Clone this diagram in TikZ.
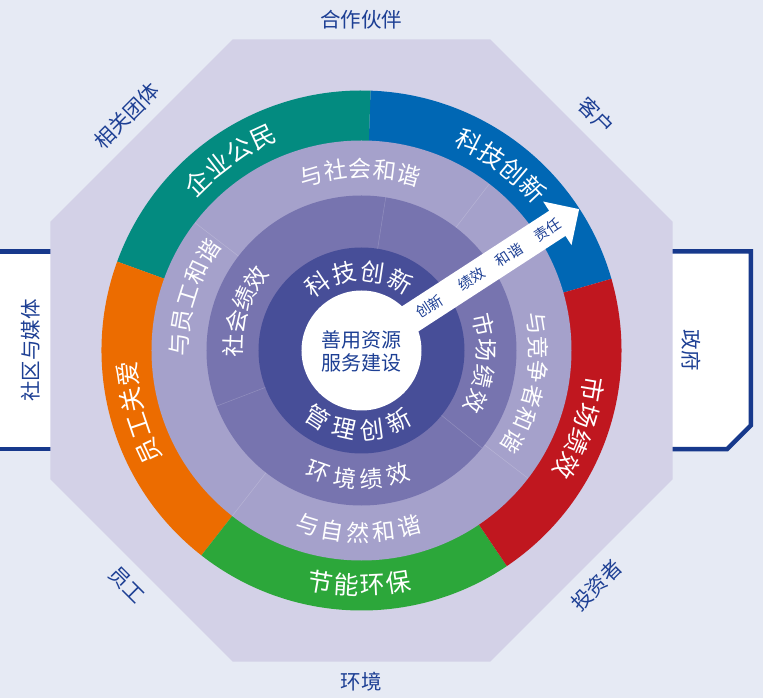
\documentclass[tikz,border=0pt]{standalone}
\usepackage{fontspec}
\setmainfont{Noto Sans CJK SC}
\definecolor{bg}{HTML}{E6EAF4}
\definecolor{oct}{HTML}{D3D1E7}
\definecolor{navy}{HTML}{17398C}
\definecolor{txtblue}{HTML}{1D3F94}
\definecolor{cteal}{HTML}{038B80}
\definecolor{cblue}{HTML}{0067B4}
\definecolor{cred}{HTML}{C0171F}
\definecolor{cgreen}{HTML}{2CA73A}
\definecolor{corange}{HTML}{EC6C00}
\definecolor{ringb}{HTML}{A5A1CB}
\definecolor{ringc}{HTML}{7774AF}
\definecolor{ringd}{HTML}{474E98}
% annular sector: colour, start angle, end angle, inner r, outer r
\newcommand\mysector[5]{%
  \fill[#1] (#2:#4) arc[start angle=#2, end angle=#3, radius=#4pt]
    -- (#3:#5) arc[start angle=#3, end angle=#2, radius=#5pt] -- cycle;}
% clockwise arc text, tops outward: name, centre angle, step, radius, n, list, font size
\newcommand\arcCW[7]{%
  \foreach \ch [count=\i from 0] in {#6} {%
    \pgfmathsetmacro\ang{#2+(#5-1)/2*#3-\i*#3}%
    \node[ringtxt, font=\fontsize{#7}{#7}\selectfont, rotate=\ang-90] (#1-\i) at (\ang:#4) {\ch};
  }}
% counter-clockwise arc text (bottom), tops inward
\newcommand\arcCCW[7]{%
  \foreach \ch [count=\i from 0] in {#6} {%
    \pgfmathsetmacro\ang{#2-(#5-1)/2*#3+\i*#3}%
    \node[ringtxt, font=\fontsize{#7}{#7}\selectfont, rotate=\ang+90] (#1-\i) at (\ang:#4) {\ch};
  }}
\begin{document}
\begin{tikzpicture}[x=1pt,y=1pt,
  ringtxt/.style={text=white, inner sep=0pt},
  outlbl/.style={text=txtblue, inner sep=0pt, font=\fontsize{20.5}{20.5}\selectfont},
  arrowtxt/.style={text=txtblue, inner sep=0pt, font=\fontsize{14.5}{14.5}\selectfont},
  sepline/.style={line width=0.5pt, white, opacity=0.2}]
\useasboundingbox (-361.5,-347.5) rectangle (401.5,350.5);
\fill[bg] (-361.5,-347.5) rectangle (401.5,350.5);
% side boxes
\fill[white] (-365,-98.7) rectangle (-300,99);
\draw[navy, line width=4.3pt] (-365,99) -- (-300,99) (-365,-98.7) -- (-300,-98.7);
\filldraw[fill=white, draw=navy, line width=4.5pt, line join=miter]
  (300,99) -- (389.3,99) -- (389.3,-75) -- (365.5,-98.7) -- (300,-98.7);
% octagon
\fill[oct] (128.8,311) -- (311,128.8) -- (311,-128.8) -- (128.8,-311) -- (-128.8,-311)
  -- (-311,-128.8) -- (-311,128.8) -- (-128.8,311) -- cycle;
% outer ring
\mysector{cblue}{16}{88}{209}{260}
\mysector{cteal}{88}{160}{209}{260}
\mysector{corange}{160}{232}{209}{260}
\mysector{cgreen}{232}{304}{209}{260}
\mysector{cred}{304}{376}{209}{260}
% inner rings
\fill[ringb] (0,0) circle[radius=210pt];
\fill[ringc] (0,0) circle[radius=155pt];
\fill[ringd] (0,0) circle[radius=103pt];
\fill[white] (0,0) circle[radius=60pt];
\foreach \a in {52.5,142.5,232,322.5} \draw[sepline] (\a:155) -- (\a:210);
\foreach \a in {81,201,321} \draw[sepline] (\a:103) -- (\a:155);
% arrow
\fill[white, rotate=33] (0,-15) -- (233.5,-15) -- (233.5,-26) -- (259.5,0)
  -- (233.5,26) -- (233.5,15) -- (0,15) -- cycle;
\node[arrowtxt, rotate=33] (w1) at (33:81) {创新};
\node[arrowtxt, rotate=33] (w2) at (33:131) {绩效};
\node[arrowtxt, rotate=33] (w3) at (33:176) {和谐};
\node[arrowtxt, rotate=33] (w4) at (33:222) {责任};
% outer ring texts
\arcCW{qy}{124.5}{6.5}{235}{4}{企,业,公,民}{25}
\arcCW{kj}{53}{6.5}{235}{4}{科,技,创,新}{25}
\arcCW{sc}{-19.5}{6.6}{235}{4}{市,场,绩,效}{25}
\arcCW{yg}{195.5}{6.5}{235}{4}{员,工,关,爱}{25}
\arcCCW{jn}{-90.5}{6.3}{235}{4}{节,能,环,保}{25}
% second ring
\arcCW{sh}{90.5}{7.8}{182}{5}{与,社,会,和,谐}{23}
\arcCW{ygh}{162.6}{7.85}{182}{5}{与,员,工,和,谐}{23}
\arcCW{jz}{-11}{8}{177}{6}{与,竞,争,者,和,谐}{22.5}
\arcCCW{zr}{-91}{8.1}{182}{5}{与,自,然,和,谐}{23}
% third ring
\arcCW{shjx}{161.5}{10.8}{128}{4}{社,会,绩,效}{23}
\arcCW{scjx}{-6}{12}{125}{4}{市,场,绩,效}{23}
\arcCCW{hjjx}{-91.5}{12}{129}{4}{环,境,绩,效}{23}
% dark ring
\arcCW{kjcx}{92}{21}{79}{4}{科,技,创,新}{24}
\arcCCW{glcx}{-92.5}{20.3}{80}{4}{管,理,创,新}{24}
% centre
\node[text=txtblue, align=center, inner sep=0pt, font=\fontsize{20}{23.5}\selectfont] (core) at (0,-1) {善用资源\\服务建设};
% outer labels
\node[outlbl] (p1) at (90:331) {合作伙伴};
\node[outlbl, rotate=45] (p2) at (135:332) {相关团体};
\node[outlbl, rotate=-45] (p3) at (45:332) {客户};
\node[outlbl, rotate=-90] (p4) at (0:330) {政府};
\node[outlbl, rotate=90] (p5) at (180:331) {社区与媒体};
\node[outlbl, rotate=-45] (p6) at (-135:332) {员工};
\node[outlbl, rotate=45] (p7) at (-45:332) {投资者};
\node[outlbl] (p8) at (-90:331) {环境};
\end{tikzpicture}
\end{document}
